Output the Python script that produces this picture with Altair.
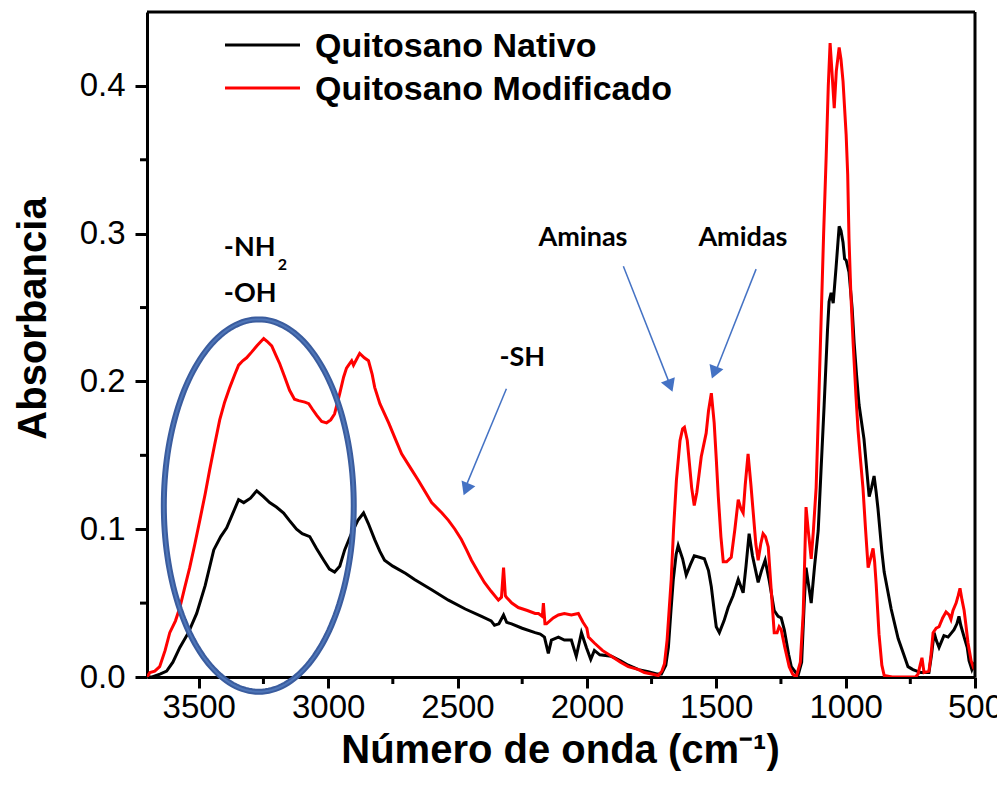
import altair as alt
import numpy as np
import pandas as pd

# ---------------- data ----------------
wn_nativo = [3700, 3680, 3650, 3624, 3600, 3573, 3540, 3508, 3475, 3442, 3415, 3392, 3370, 3346, 3326, 3300,
             3276, 3250, 3226, 3200, 3172, 3150, 3122, 3100, 3071, 3045, 3017, 2995, 2975, 2955, 2936, 2910,
             2885, 2863, 2845, 2820, 2800, 2782, 2750, 2700, 2666, 2600, 2535, 2470, 2407, 2370, 2357, 2340,
             2322, 2310, 2291, 2250, 2200, 2180, 2164, 2149, 2137, 2110, 2087, 2060, 2041, 2021, 2002, 1985,
             1971, 1950, 1905, 1870, 1840, 1800, 1763, 1730, 1712, 1695, 1685, 1675, 1666, 1655, 1647, 1630,
             1616, 1600, 1585, 1565, 1546, 1530, 1519, 1508, 1500, 1488, 1470, 1454, 1435, 1415, 1396, 1385,
             1373, 1360, 1338, 1325, 1311, 1295, 1276, 1261, 1249, 1237, 1220, 1210, 1184, 1170, 1160, 1153,
             1143, 1133, 1120, 1106, 1095, 1083, 1070, 1064, 1056, 1048, 1037, 1025, 1018, 1010, 1004, 998,
             987, 975, 967, 958, 948, 929, 909, 900, 890, 882, 875, 860, 851, 824, 797, 775, 759, 740, 709,
             678, 668, 658, 650, 639, 620, 604, 590, 581, 570, 562, 555, 542, 530, 523, 512, 500]
abs_nativo = [0, 0, 0.002, 0.004, 0.01, 0.02, 0.03, 0.043, 0.062, 0.086, 0.095, 0.101, 0.11, 0.12, 0.118, 0.121,
              0.126, 0.122, 0.118, 0.115, 0.111, 0.106, 0.10, 0.097, 0.095, 0.087, 0.079, 0.073, 0.071, 0.075,
              0.086, 0.097, 0.106, 0.111, 0.104, 0.093, 0.085, 0.079, 0.075, 0.07, 0.066, 0.059, 0.052, 0.046,
              0.041, 0.038, 0.035, 0.036, 0.042, 0.037, 0.036, 0.033, 0.03, 0.029, 0.027, 0.016, 0.025, 0.027,
              0.025, 0.025, 0.014, 0.030, 0.020, 0.012, 0.018, 0.015, 0.014, 0.011, 0.008, 0.005, 0.0035, 0.002,
              0.002, 0.008, 0.02, 0.045, 0.066, 0.083, 0.089, 0.08, 0.069, 0.076, 0.082, 0.081, 0.08, 0.072,
              0.061, 0.045, 0.034, 0.030, 0.038, 0.047, 0.055, 0.066, 0.057, 0.075, 0.097, 0.082, 0.064, 0.072,
              0.079, 0.065, 0.045, 0.041, 0.04, 0.032, 0.015, 0.007, 0.001, 0.01, 0.05, 0.074, 0.062, 0.05,
              0.075, 0.099, 0.14, 0.184, 0.235, 0.254, 0.26, 0.253, 0.277, 0.305, 0.302, 0.294, 0.283, 0.282,
              0.274, 0.25, 0.226, 0.205, 0.184, 0.161, 0.122, 0.128, 0.136, 0.125, 0.114, 0.085, 0.071, 0.046,
              0.026, 0.015, 0.007, 0.005, 0.003, 0.003, 0.015, 0.03, 0.025, 0.02, 0.028, 0.027, 0.03, 0.032,
              0.036, 0.041, 0.035, 0.027, 0.02, 0.011, 0.005, 0.01]

wn_mod = [3700, 3689, 3670, 3651, 3630, 3612, 3590, 3573, 3555, 3535, 3515, 3496, 3475, 3458, 3440, 3419, 3400,
          3380, 3360, 3346, 3330, 3315, 3295, 3276, 3249, 3235, 3218, 3200, 3187, 3170, 3149, 3130, 3114, 3090,
          3075, 3060, 3044, 3025, 3006, 2990, 2975, 2955, 2940, 2929, 2921, 2909, 2902, 2890, 2878, 2860, 2844,
          2830, 2820, 2800, 2766, 2740, 2716, 2680, 2651, 2600, 2560, 2535, 2510, 2485, 2465, 2446, 2420, 2396,
          2370, 2342, 2330, 2322, 2315, 2311, 2290, 2265, 2230, 2200, 2187, 2172, 2168, 2162, 2156, 2130, 2110,
          2087, 2060, 2033, 2015, 2000, 1994, 1971, 1940, 1905, 1870, 1840, 1800, 1778, 1750, 1724, 1710, 1700,
          1690, 1674, 1665, 1654, 1640, 1630, 1623, 1612, 1604, 1595, 1585, 1575, 1558, 1539, 1530, 1519, 1508,
          1500, 1492, 1482, 1473, 1460, 1442, 1428, 1415, 1405, 1396, 1388, 1377, 1366, 1357, 1347, 1338, 1328,
          1319, 1310, 1299, 1288, 1276, 1265, 1257, 1249, 1235, 1218, 1205, 1191, 1175, 1164, 1158, 1153, 1145,
          1133, 1125, 1114, 1105, 1095, 1085, 1075, 1067, 1060, 1053, 1044, 1036, 1025, 1018, 1010, 998, 992,
          987, 980, 971, 960, 952, 943, 933, 923, 913, 904, 894, 888, 882, 871, 860, 851, 820, 760, 730, 720,
          712, 705, 697, 678, 670, 662, 650, 639, 625, 612, 600, 593, 585, 573, 565, 558, 550, 542, 535, 527,
          515, 505, 500]
abs_mod = [0, 0.003, 0.004, 0.007, 0.018, 0.03, 0.038, 0.047, 0.06, 0.074, 0.09, 0.106, 0.124, 0.14, 0.156, 0.174,
           0.186, 0.196, 0.205, 0.211, 0.214, 0.216, 0.22, 0.224, 0.229, 0.227, 0.224, 0.217, 0.212, 0.204, 0.194,
           0.188, 0.187, 0.186, 0.185, 0.181, 0.177, 0.173, 0.172, 0.174, 0.178, 0.192, 0.203, 0.209, 0.211, 0.214,
           0.211, 0.215, 0.219, 0.216, 0.214, 0.205, 0.196, 0.185, 0.172, 0.161, 0.151, 0.141, 0.133, 0.118, 0.111,
           0.106, 0.1, 0.093, 0.086, 0.079, 0.071, 0.064, 0.058, 0.052, 0.054, 0.074, 0.055, 0.054, 0.05, 0.047,
           0.045, 0.043, 0.043, 0.041, 0.05, 0.036, 0.036, 0.04, 0.042, 0.043, 0.042, 0.043, 0.037, 0.033, 0.027,
           0.023, 0.018, 0.014, 0.01, 0.007, 0.005, 0.003, 0.002, 0.001, 0.004, 0.009, 0.025, 0.066, 0.1, 0.133,
           0.16, 0.168, 0.169, 0.16, 0.145, 0.128, 0.116, 0.125, 0.149, 0.165, 0.18, 0.192, 0.172, 0.148, 0.122,
           0.095, 0.078, 0.078, 0.081, 0.1, 0.12, 0.114, 0.111, 0.13, 0.151, 0.13, 0.111, 0.09, 0.079, 0.09, 0.097,
           0.095, 0.088, 0.06, 0.030, 0.03, 0.034, 0.032, 0.02, 0.007, 0.002, 0, 0.01, 0.043, 0.08, 0.115, 0.1,
           0.080, 0.098, 0.128, 0.18, 0.24, 0.3, 0.353, 0.4, 0.429, 0.41, 0.385, 0.41, 0.426, 0.418, 0.403, 0.367,
           0.34, 0.297, 0.26, 0.226, 0.19, 0.167, 0.148, 0.128, 0.1, 0.074, 0.08, 0.087, 0.078, 0.063, 0.029, 0.008,
           0.001, 0, 0, 0, 0.002, 0.008, 0.013, 0.003, 0.004, 0.015, 0.03, 0.033, 0.034, 0.04, 0.044, 0.042, 0.039,
           0.045, 0.05, 0.055, 0.06, 0.052, 0.045, 0.035, 0.023, 0.011, 0.006, 0.005]

series_names = ["Quitosano Nativo", "Quitosano Modificado"]
series_colors = ["#000000", "#FF0000"]

x_ticks = [3500, 3000, 2500, 2000, 1500, 1000, 500]
x_minor = [3250, 2750, 2250, 1750, 1250, 750]
y_ticks = [0.0, 0.1, 0.2, 0.3, 0.4]
y_minor = [0.05, 0.15, 0.25, 0.35]

# annotations (data coordinates)
ann_text = ["-NH", "-OH", "-SH", "Aminas", "Amidas"]
ann_x = [3403, 3403, 2338, 2187, 1569]
ann_y = [0.290, 0.259, 0.216, 0.297, 0.297]
sub_text = ["2"]
sub_x = [3195]
sub_y = [0.279]

arrow_x = [2311, 1859, 1346]
arrow_y = [0.195, 0.278, 0.276]
arrow_x2 = [2470, 1677, 1506]
arrow_y2 = [0.128, 0.197, 0.205]
head_x = [2467, 1678, 1508]
head_y = [0.127, 0.197, 0.206]
head_angle = [202, 159, 201]

ell_cx, ell_cy, ell_rx, ell_ry = 3268, 0.116, 367, 0.126

# ---------------- tables ----------------
df = pd.concat([
    pd.DataFrame({"wn": wn_nativo, "A": abs_nativo, "serie": series_names[0], "k": 0}),
    pd.DataFrame({"wn": wn_mod, "A": abs_mod, "serie": series_names[1], "k": 1}),
])

t = np.linspace(0, 2 * np.pi, 181)
df_ell = pd.DataFrame({"wn": ell_cx + ell_rx * np.cos(t), "A": ell_cy + ell_ry * np.sin(t), "i": np.arange(len(t))})
df_ann = pd.DataFrame({"wn": ann_x, "A": ann_y, "txt": ann_text})
df_sub = pd.DataFrame({"wn": sub_x, "A": sub_y, "txt": sub_text})
df_arrow = pd.DataFrame({"wn": arrow_x, "A": arrow_y, "wn2": arrow_x2, "A2": arrow_y2})
df_head = pd.DataFrame({"wn": head_x, "A": head_y, "ang": head_angle})
df_xminor = pd.DataFrame({"wn": x_minor})
df_yminor = pd.DataFrame({"A": y_minor})

W, H = 828, 665
# legend layout (pixels inside the plot area)
LEG_X0, LEG_X1, LEG_TX, LEG_Y0, LEG_DY = 78, 153, 168, 33, 43
df_leg = pd.DataFrame({"serie": series_names,
                       "ly": [LEG_Y0 + LEG_DY * i for i in range(len(series_names))]})

xscale = alt.Scale(domain=[500, 3700], reverse=True, nice=False, zero=False)
yscale = alt.Scale(domain=[0, 0.45], nice=False)
cscale = alt.Scale(domain=series_names, range=series_colors)

xaxis = alt.Axis(values=x_ticks, format="d", labelFontSize=33, labelFont="Liberation Sans", labelColor="black",
                 tickSize=11, tickWidth=3, tickColor="black", domainWidth=3, domainColor="black",
                 labelPadding=3, labelFlush=False, labelOverlap=False, grid=False,
                 title="Número de onda (cm⁻¹)", titleFont="Liberation Sans", titleFontSize=40,
                 titleFontWeight="bold", titleColor="black", titleX=413, titleY=85,
                 titleBaseline="alphabetic", titleAnchor="middle", titleAlign="center")
yaxis = alt.Axis(values=y_ticks, format=".1f", labelFontSize=33, labelFont="Liberation Sans", labelColor="black",
                 tickSize=12, tickWidth=3, tickColor="black", domainWidth=3, domainColor="black",
                 labelPadding=10, labelOverlap=False, labelFlush=False, grid=False,
                 title="Absorbancia", titleFont="Liberation Sans", titleFontSize=40, titleFontWeight="bold",
                 titleColor="black", titleX=-102, titleY=306, titleAngle=270, titleBaseline="alphabetic",
                 titleAlign="center")

lines = alt.Chart(df).mark_line(strokeWidth=3, clip=True).encode(
    x=alt.X("wn:Q", scale=xscale, axis=xaxis),
    y=alt.Y("A:Q", scale=yscale, axis=yaxis),
    color=alt.Color("serie:N", scale=cscale, legend=None),
    order=alt.Order("k:Q"),
    detail="serie:N",
)

leg_lines = alt.Chart(df_leg).mark_rule(strokeWidth=3).encode(
    x=alt.value(LEG_X0), x2=alt.value(LEG_X1),
    y=alt.Y("ly:Q", scale=None), color=alt.Color("serie:N", scale=cscale, legend=None))
leg_text = alt.Chart(df_leg).mark_text(font="Liberation Sans", fontWeight="bold", fontSize=34, align="left",
                                       baseline="middle", color="black", dy=2).encode(
    x=alt.value(LEG_TX), y=alt.Y("ly:Q", scale=None), text="serie:N")

ellipse = alt.Chart(df_ell).mark_line(stroke="#3A5C9E", strokeWidth=6, clip=False).encode(
    x=alt.X("wn:Q", scale=xscale), y=alt.Y("A:Q", scale=yscale), order="i:Q")
ellipse_in = alt.Chart(df_ell).mark_line(stroke="#4F76B8", strokeWidth=2, clip=False).encode(
    x=alt.X("wn:Q", scale=xscale), y=alt.Y("A:Q", scale=yscale), order="i:Q")

ann = alt.Chart(df_ann).mark_text(font="Lato", fontWeight="bold", fontSize=27, align="left",
                                  baseline="middle", color="black").encode(
    x=alt.X("wn:Q", scale=xscale), y=alt.Y("A:Q", scale=yscale), text="txt:N")
sub = alt.Chart(df_sub).mark_text(font="Lato", fontWeight="bold", fontSize=16, align="left",
                                  baseline="middle", color="black").encode(
    x=alt.X("wn:Q", scale=xscale), y=alt.Y("A:Q", scale=yscale), text="txt:N")

arrows = alt.Chart(df_arrow).mark_rule(color="#4472C4", strokeWidth=1.5).encode(
    x=alt.X("wn:Q", scale=xscale), y=alt.Y("A:Q", scale=yscale), x2="wn2:Q", y2="A2:Q")
heads = alt.Chart(df_head).mark_point(shape="triangle-up", filled=True, size=220, color="#4472C4",
                                      opacity=1).encode(
    x=alt.X("wn:Q", scale=xscale), y=alt.Y("A:Q", scale=yscale), angle=alt.Angle("ang:Q", scale=None))

xminor = alt.Chart(df_xminor).mark_rule(color="black", strokeWidth=3).encode(
    x=alt.X("wn:Q", scale=xscale), y=alt.value(H), y2=alt.value(H + 7))
yminor = alt.Chart(df_yminor).mark_rule(color="black", strokeWidth=3).encode(
    y=alt.Y("A:Q", scale=yscale), x=alt.value(-7), x2=alt.value(0))

frame_top = alt.Chart(df_leg.head(1)).mark_rule(color="black", strokeWidth=3).encode(
    x=alt.value(0), x2=alt.value(W), y=alt.value(0))
frame_right = alt.Chart(df_leg.head(1)).mark_rule(color="black", strokeWidth=3).encode(
    x=alt.value(W), y=alt.value(0), y2=alt.value(H))

chart = alt.layer(lines, ellipse, ellipse_in, ann, sub, arrows, heads, xminor, yminor,
                  frame_top, frame_right, leg_lines, leg_text).properties(
    width=W, height=H,
    autosize=alt.AutoSizeParams(type="none"),
    padding={"left": 139, "top": 4, "right": 22, "bottom": 105},
).configure_view(stroke=None).configure(background="white")

chart.save("out.html", embed_options={"renderer": "svg", "actions": False})
